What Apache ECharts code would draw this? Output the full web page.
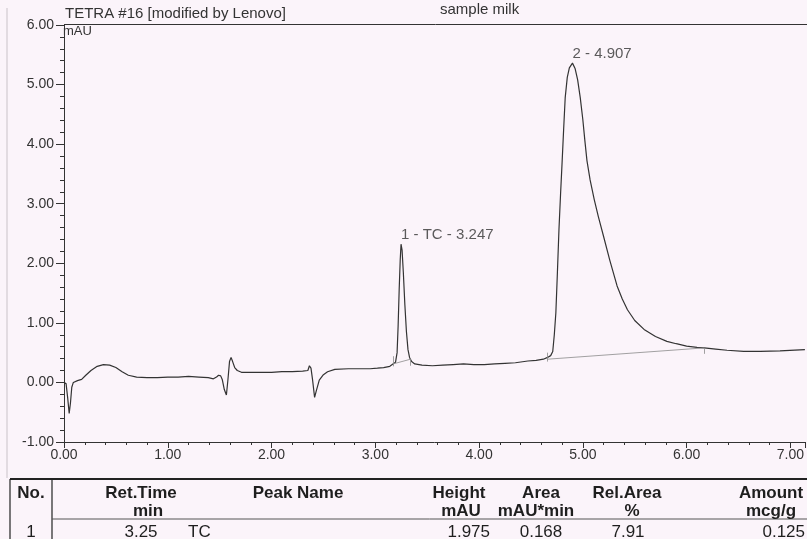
<!DOCTYPE html>
<html><head><meta charset="utf-8">
<script src="https://cdn.jsdelivr.net/npm/echarts@6/dist/echarts.min.js"></script>
<style>html,body{margin:0;padding:0;background:#fbf4fa;}#c{width:807px;height:539px;}</style>
</head><body><div id="c"></div>
<script>
// ---- chromatogram trace (time in min, signal in mAU) ----
const time = [0.00,0.02,0.035,0.05,0.062,0.075,0.09,0.13,0.17,0.21,0.26,0.32,0.38,0.44,0.50,0.56,0.62,0.70,0.80,0.90,1.00,1.10,
  1.20,1.30,1.39,1.44,1.47,1.49,1.51,1.525,1.545,1.565,1.58,1.595,1.61,1.625,1.645,1.67,1.71,1.80,1.90,2.00,2.10,2.20,2.30,2.35,
  2.365,2.38,2.395,2.415,2.43,2.46,2.50,2.54,2.61,2.74,2.85,2.95,3.02,3.08,3.14,3.17,3.195,3.21,3.22,3.23,3.24,3.248,3.258,3.27,
  3.285,3.30,3.315,3.33,3.35,3.38,3.45,3.55,3.65,3.75,3.85,3.95,4.05,4.15,4.25,4.35,4.47,4.55,4.62,4.66,4.69,4.71,4.725,4.74,
  4.755,4.77,4.785,4.80,4.815,4.83,4.85,4.87,4.90,4.925,4.95,4.975,5.00,5.02,5.04,5.07,5.11,5.15,5.20,5.26,5.33,5.38,5.43,5.50,
  5.59,5.70,5.81,5.90,6.00,6.10,6.17,6.28,6.39,6.55,6.71,6.90,7.14];
const signal = [0.00,-0.02,-0.25,-0.52,-0.35,-0.08,0.00,0.03,0.05,0.12,0.20,0.27,0.30,0.29,0.25,0.18,0.12,0.09,0.08,0.08,0.09,0.09,
  0.10,0.09,0.08,0.06,0.09,0.12,0.11,0.05,-0.12,-0.21,0.05,0.35,0.42,0.35,0.25,0.20,0.17,0.17,0.17,0.17,0.18,0.18,0.19,0.20,
  0.28,0.24,0.05,-0.25,-0.15,0.04,0.13,0.18,0.22,0.23,0.23,0.23,0.24,0.25,0.27,0.31,0.34,0.50,0.95,1.55,2.05,2.32,2.22,1.85,
  1.30,0.85,0.55,0.42,0.35,0.31,0.29,0.28,0.29,0.30,0.31,0.30,0.30,0.31,0.32,0.33,0.36,0.37,0.39,0.42,0.45,0.52,0.80,1.17,
  1.85,2.57,3.15,3.69,4.25,4.78,5.12,5.28,5.36,5.27,5.08,4.78,4.41,4.05,3.72,3.40,3.07,2.78,2.45,2.05,1.62,1.40,1.22,1.04,
  0.89,0.77,0.69,0.65,0.61,0.59,0.58,0.56,0.54,0.52,0.52,0.53,0.55];

// ---- integration baselines: [startTime, startValue, endTime, endValue] ----
const baseStartT = [3.17, 4.66];
const baseStartV = [0.31, 0.39];
const baseEndT = [3.34, 6.17];
const baseEndV = [0.39, 0.58];
// ---- peak delimiter ticks: time, low, high ----
const tickT = [3.175, 3.34, 4.66, 6.17];
const tickLo = [0.27, 0.28, 0.35, 0.48];
const tickHi = [0.44, 0.40, 0.50, 0.58];

// ---- peak labels ----
const peakLabels = ['1 - TC - 3.247', '2 - 4.907'];
const peakT = [3.248, 4.90];
const peakV = [2.32, 5.36];

// ---- texts ----
const chartTitle = 'TETRA #16 [modified by Lenovo]';
const sampleTitle = 'sample milk';
const yUnit = 'mAU';

// ---- result table ----
const colHead1 = ['No.', 'Ret.Time', 'Peak Name', 'Height', 'Area', 'Rel.Area', 'Amount'];
const colHead2 = ['', 'min', '', 'mAU', 'mAU*min', '%', 'mcg/g'];
const row1 = ['1', '3.25', 'TC', '1.975', '0.168', '7.91', '0.125'];

const chart = echarts.init(document.getElementById('c'), null, {renderer: 'canvas'});
const FONT = 'Liberation Sans, Arial, Helvetica, sans-serif';
const INK = '#333';

const trace = time.map((t, i) => [t, signal[i]]);
const baseLines = baseStartT.map((t, i) => [{coord: [t, baseStartV[i]]}, {coord: [baseEndT[i], baseEndV[i]]}]);
const tickLines = tickT.map((t, i) => [{coord: [t, tickLo[i]]}, {coord: [t, tickHi[i]]}]);

// table layout
const head1X = [31, 141, 298, 459, 541, 627, 771];
const head2X = [31, 148, 298, 461, 536, 632, 771];
const rowX = [31, 141, 188, 490, 541, 628, 805];
const rowAlign = ['center', 'center', 'left', 'right', 'center', 'center', 'right'];
const txt = (s, x, y, align, bold) => ({
  type: 'text', x: 0, y: 0, silent: true,
  style: {text: s, x: x, y: y, textAlign: align, align: align, textVerticalAlign: 'middle', verticalAlign: 'middle',
    fontSize: 17, fontWeight: bold ? 'bold' : 'normal', fontFamily: FONT, fill: '#1e1e1e'}
});
const ln = (x1, y1, x2, y2, w, c) => ({type: 'line', silent: true, shape: {x1, y1, x2, y2}, style: {stroke: c || '#222', lineWidth: w}});
const graphics = [
  ln(7, 8, 7, 478, 1, '#c9c2c8'),
  ln(64, 24.5, 807, 24.5, 1, INK),
  ln(10, 479, 807, 479, 2),
  ln(10, 479, 10, 539, 1.2),
  ln(52, 479, 52, 539, 1.2),
  ln(52, 519, 807, 519, 1, '#555'),
  {type: 'text', x: 0, y: 0, silent: true, style: {text: yUnit, x: 63, y: 25, textAlign: 'left', align: 'left', textVerticalAlign: 'top', verticalAlign: 'top', fontSize: 13, fontFamily: FONT, fill: INK}}
];
colHead1.forEach((s, i) => graphics.push(txt(s, head1X[i], 493, 'center', true)));
colHead2.forEach((s, i) => { if (s) graphics.push(txt(s, head2X[i], 511, 'center', true)); });
row1.forEach((s, i) => graphics.push(txt(s, rowX[i], 532, rowAlign[i], false)));

const option = {
  animation: false,
  backgroundColor: '#fbf4fa',
  title: [
    {text: chartTitle, left: 60, top: 1, textStyle: {fontSize: 15, fontWeight: 'normal', fontFamily: FONT, color: INK}},
    {text: sampleTitle, left: 435, top: -3, textStyle: {fontSize: 15, fontWeight: 'normal', fontFamily: FONT, color: INK}}
  ],
  grid: {left: 64, right: 0, top: 25, bottom: 97},
  xAxis: {
    type: 'value', min: 0, max: 7.14, interval: 1,
    axisLine: {onZero: false, lineStyle: {color: INK, width: 1}},
    axisTick: {show: true, inside: false, length: 6, lineStyle: {color: INK}},
    minorTick: {show: true, splitNumber: 5, length: 3, lineStyle: {color: INK}},
    axisLabel: {showMaxLabel: false, margin: 6, fontSize: 14, fontFamily: FONT, color: INK, formatter: v => v.toFixed(2)},
    splitLine: {show: false}
  },
  yAxis: {
    type: 'value', min: -1, max: 6, interval: 1,
    axisLine: {show: true, onZero: false, lineStyle: {color: INK, width: 1}},
    axisTick: {show: true, length: 8, lineStyle: {color: INK}},
    minorTick: {show: true, splitNumber: 5, length: 4, lineStyle: {color: INK}},
    axisLabel: {margin: 10, fontSize: 14, fontFamily: FONT, color: INK, formatter: v => v.toFixed(2)},
    splitLine: {show: false}
  },
  series: [
    {
      type: 'line', data: trace, showSymbol: false, symbol: 'none', smooth: false,
      lineStyle: {color: '#333', width: 1.2}, z: 3,
      markLine: {silent: true, symbol: 'none', label: {show: false},
        lineStyle: {color: '#8a8a8a', width: 0.8, type: 'solid'},
        data: baseLines.concat(tickLines)}
    },
    {
      type: 'scatter', symbolSize: 1, itemStyle: {color: 'transparent'}, z: 4,
      data: peakT.map((t, i) => ({value: [t, peakV[i]], name: peakLabels[i]})),
      label: {show: true, position: 'top', distance: 1, align: 'left', formatter: p => p.name,
        fontSize: 15, fontFamily: FONT, color: INK}
    }
  ],
  graphic: graphics
};
chart.setOption(option);
</script>
</body></html>
